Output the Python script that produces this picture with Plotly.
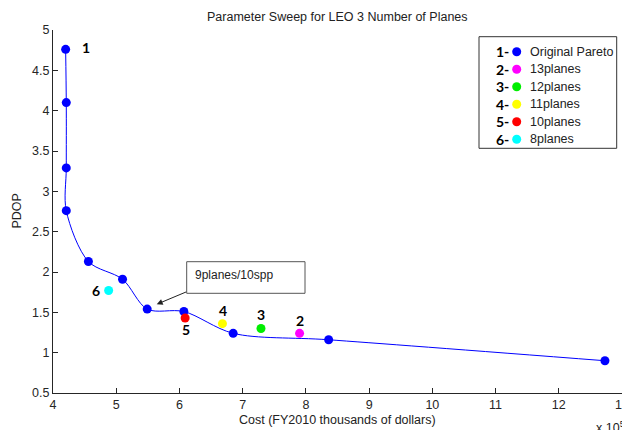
import plotly.graph_objects as go

# ---- data (cost in units of 1e5 FY2010 thousands of dollars) ----
pareto_cost = [4.20, 4.21, 4.21, 4.21, 4.56, 5.10, 5.49, 6.07, 6.85, 8.36, 12.73]
pareto_pdop = [4.76, 4.10, 3.29, 2.76, 2.13, 1.91, 1.54, 1.51, 1.24, 1.16, 0.90]

alt_names = ["13planes", "12planes", "11planes", "10planes", "8planes"]
alt_tags = ["2", "3", "4", "5", "6"]
alt_cost = [7.90, 7.29, 6.68, 6.09, 4.88]
alt_pdop = [1.24, 1.30, 1.36, 1.43, 1.77]
alt_colors = ["#ff00ff", "#00ee00", "#ffff00", "#ff0000", "#00ffff"]

legend_tags = ["1-", "2-", "3-", "4-", "5-", "6-"]
legend_names = ["Original Pareto"] + alt_names
legend_colors = ["#0000ff"] + alt_colors

x_ticks = [4, 5, 6, 7, 8, 9, 10, 11, 12, 13]
y_ticks = [0.5, 1, 1.5, 2, 2.5, 3, 3.5, 4, 4.5, 5]

W, H = 622, 430
ML, MR, MT, MB = 53, 0, 30, 37
PW, PH = W - ML - MR, H - MT - MB


def px(xp):
    return (xp - ML) / PW


def py(yp):
    return (H - MB - yp) / PH


AX = "#262626"
TXT = "#222222"
FONT = "Liberation Sans, Arial, sans-serif"
BOLD = "Lato, Open Sans, sans-serif"
FS = 12.5

fig = go.Figure()

# Pareto front: smooth curve with markers
fig.add_trace(go.Scatter(
    x=pareto_cost, y=pareto_pdop, mode="lines+markers",
    line=dict(color="#0000ff", width=1, shape="spline", smoothing=0.9),
    marker=dict(color="#0000ff", size=9),
    showlegend=False, hoverinfo="skip"))

# alternative plane counts
fig.add_trace(go.Scatter(
    x=alt_cost, y=alt_pdop, mode="markers",
    marker=dict(color=alt_colors, size=9),
    showlegend=False, hoverinfo="skip"))

# legend rows (markers on an overlaid 0..1 axis pair)
row_y = [py(51.7 + 17.5 * i) for i in range(len(legend_names))]
fig.add_trace(go.Scatter(
    x=[px(516.7)] * len(legend_names), y=row_y, mode="markers",
    marker=dict(color=legend_colors, size=9),
    xaxis="x2", yaxis="y2", showlegend=False, hoverinfo="skip"))

shapes = [
    # legend frame
    dict(type="rect", xref="paper", yref="paper",
         x0=px(479), x1=px(616.7), y0=py(148.3), y1=py(36.7),
         line=dict(color="#333333", width=1), fillcolor="white", layer="below"),
    # callout frame
    dict(type="rect", xref="paper", yref="paper",
         x0=px(186.7), x1=px(305), y0=py(293.3), y1=py(261.7),
         line=dict(color="#555555", width=1), fillcolor="white", layer="above"),
]

annotations = []
for tag, name, yy in zip(legend_tags, legend_names, row_y):
    annotations.append(dict(xref="paper", yref="paper", x=px(511), y=yy,
                            text=f"<b>{tag}</b>", showarrow=False, xanchor="right",
                            yanchor="middle", font=dict(family=BOLD, size=14, color="black")))
    annotations.append(dict(xref="paper", yref="paper", x=px(528), y=yy,
                            text=name, showarrow=False, xanchor="left", yanchor="middle",
                            font=dict(family=FONT, size=FS, color=TXT)))

# point numbers
annotations.append(dict(x=pareto_cost[0], y=pareto_pdop[0], text="<b>1</b>", showarrow=False,
                        xshift=20, yshift=2, font=dict(family=BOLD, size=14, color="black")))
shifts = {"2": (0, 13), "3": (0, 14), "4": (1, 13), "5": (1, -12), "6": (-13, 0)}
for tag, cx, cy in zip(alt_tags, alt_cost, alt_pdop):
    dx, dy = shifts[tag]
    annotations.append(dict(x=cx, y=cy, text=f"<b>{tag}</b>", showarrow=False,
                            xshift=dx, yshift=dy,
                            font=dict(family=BOLD, size=14, color="black")))

# callout text and arrow
annotations.append(dict(xref="paper", yref="paper", x=px(193), y=py(274.5),
                        text="9planes/10spp", showarrow=False, xanchor="left",
                        yanchor="middle", font=dict(family=FONT, size=12, color=TXT)))
annotations.append(dict(xref="paper", yref="paper", x=px(156.7), y=py(304.3), text="",
                        showarrow=True, ax=31, ay=-13, arrowhead=2, arrowsize=1.2,
                        arrowwidth=1, arrowcolor=TXT))

# titles
annotations.append(dict(xref="paper", yref="paper", x=0.5, y=py(17),
                        text="Parameter Sweep for LEO 3 Number of Planes",
                        showarrow=False, yanchor="middle",
                        font=dict(family=FONT, size=FS, color=TXT)))
annotations.append(dict(xref="paper", yref="paper", x=px(337), y=py(420),
                        text="Cost (FY2010 thousands of dollars)", showarrow=False,
                        yanchor="middle", font=dict(family=FONT, size=FS, color=TXT)))
annotations.append(dict(xref="paper", yref="paper", x=px(16), y=0.5, text="PDOP",
                        showarrow=False, textangle=-90, xanchor="center", yanchor="middle",
                        font=dict(family=FONT, size=FS, color=TXT)))
annotations.append(dict(xref="paper", yref="paper", x=px(594), y=py(427),
                        text="x 10<sup>5</sup>", showarrow=False, xanchor="left",
                        yanchor="middle", font=dict(family=FONT, size=FS, color=TXT)))

fig.update_layout(
    width=W, height=H,
    margin=dict(l=ML, r=MR, t=MT, b=MB, pad=0),
    paper_bgcolor="white", plot_bgcolor="white",
    font=dict(family=FONT, size=FS, color=AX),
    shapes=shapes, annotations=annotations,
    xaxis=dict(range=[4, 13], tickvals=x_ticks, ticktext=[str(v) for v in x_ticks],
               ticks="inside", ticklen=5, tickcolor=AX, showline=True, linecolor=AX,
               linewidth=1, showgrid=False, zeroline=False, automargin=False,
               ticklabeloverflow="allow", tickfont=dict(size=FS, color=AX)),
    yaxis=dict(range=[0.5, 5], tickvals=y_ticks, ticktext=[f"{v:g}" for v in y_ticks],
               ticks="inside", ticklen=5, tickcolor=AX, showline=True, linecolor=AX,
               linewidth=1, showgrid=False, zeroline=False, automargin=False,
               tickfont=dict(size=FS, color=AX)),
    xaxis2=dict(range=[0, 1], overlaying="x", visible=False, domain=[0, 1]),
    yaxis2=dict(range=[0, 1], overlaying="y", visible=False, domain=[0, 1]),
)

fig.write_html("out.html")
